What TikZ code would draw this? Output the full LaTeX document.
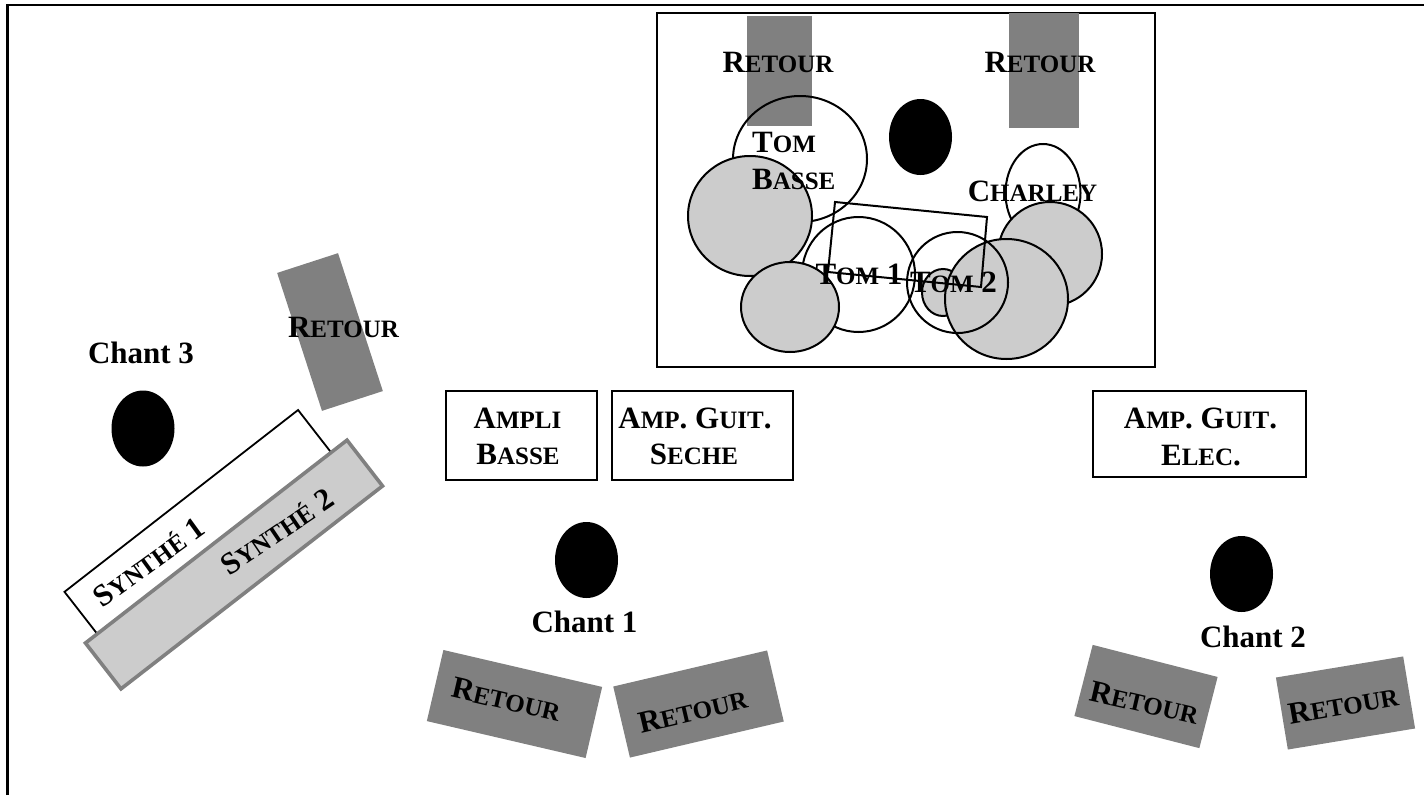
\documentclass[tikz,border=0pt]{standalone}
\usepackage{fontspec}
\setmainfont{Liberation Serif}
\usepackage{tikz}
\usetikzlibrary{shapes.geometric}
\newcommand{\petit}[2]{#1{\fontsize{25}{37}\selectfont #2}}
\tikzstyle{chanteur} = [ellipse, fill=black, inner sep=0pt, minimum width=63pt, minimum height=76pt]
\tikzstyle{futs} = [ellipse, draw=black, line width=2pt, inner sep=0pt, outer sep=0pt]
\tikzstyle{cymbale} = [futs, fill=black!20]
\tikzstyle{retour} = [rectangle, fill=black!50, inner sep=0pt]
\tikzstyle{ampli} = [rectangle, draw=black, line width=2.2pt, inner sep=0pt, outer sep=0pt]
\tikzstyle{texte} = [inner sep=0pt, anchor=base, align=center]
\tikzstyle{synthe1} = [rectangle, draw=black, fill=white, line width=1.8pt, inner sep=0pt, outer sep=0pt]
\tikzstyle{synthe2} = [rectangle, draw=black!50, fill=black!20, line width=3.6pt, inner sep=0pt, outer sep=0pt]

\begin{document}
\begin{tikzpicture}[x=1pt, y=-1pt, font=\fontsize{31}{37}\selectfont\bfseries]
	\useasboundingbox (0,0) rectangle (1424,795);
	\draw[line width=2.4pt] (7.5,795) -- (7.5,5) -- (1424,5);
	
	%batterie
	\draw[line width=2.2pt] (657,13) rectangle (1155,367);
	\node[retour, minimum width=65pt, minimum height=110pt] (retourA) at (779.5,71) {};
	\node[retour, minimum width=70pt, minimum height=115pt] (retourB) at (1044,70.5) {};
	\node[chanteur] (charley) at (920.5,137) {};
	\node[futs, minimum width=134pt, minimum height=126pt] (tombasse) at (800,159) {};
	\node[futs, minimum width=113pt, minimum height=115pt] (tom1) at (858.5,274.5) {};
	\node[cymbale, minimum width=124pt, minimum height=120pt] (cymb1) at (750,216) {};
	\node[cymbale, minimum width=98pt, minimum height=90pt] (cymb2) at (790,307) {};
	\node[futs, minimum width=75pt, minimum height=98pt] (hihat) at (1043,193) {};
	\node[cymbale, minimum width=104pt, minimum height=104pt] (cymb3) at (1050,254) {};
	\node[cymbale, minimum width=42pt, minimum height=47pt] (cymb4) at (943,292.5) {};
	\node[cymbale, minimum width=123pt, minimum height=120pt] (cymb5) at (1006.5,299) {};
	\node[futs, minimum width=101pt, minimum height=101pt] (tom2) at (957.5,282.5) {};
	\draw[line width=2pt] (835,202) -- (987,217) -- (981,287) -- (828,272) -- cycle;
	
	\node[texte] (lretourA) at (778,72) {\petit{R}{ETOUR}};
	\node[texte] (lretourB) at (1040,72) {\petit{R}{ETOUR}};
	\node[texte, anchor=base west] (ltom) at (752,152) {\petit{T}{OM}};
	\node[texte, anchor=base west] (lbasse) at (752,189) {\petit{B}{ASSE}};
	\node[texte] (lcharley) at (1032.5,201) {\petit{C}{HARLEY}};
	\node[texte] (ltom1) at (859,284) {\petit{T}{OM} 1};
	\node[texte] (ltom2) at (953.5,292) {\petit{T}{OM} 2};
	
	%amplis
	\node[ampli, minimum width=151pt, minimum height=89pt] (amplibasse) at (521.5,435.5) {};
	\node[ampli, minimum width=181pt, minimum height=89pt] (ampseche) at (702.5,435.5) {};
	\node[ampli, minimum width=213pt, minimum height=86pt] (ampelec) at (1199.5,434) {};
	\node[texte] (lampli) at (517.5,428) {\petit{A}{MPLI}};
	\node[texte] (lbasse2) at (518,464) {\petit{B}{ASSE}};
	\node[texte] (lguit1) at (695,428) {\petit{A}{MP}. \petit{G}{UIT}.};
	\node[texte] (lseche) at (694,464) {\petit{S}{ECHE}};
	\node[texte] (lguit2) at (1200.5,428) {\petit{A}{MP}. \petit{G}{UIT}.};
	\node[texte] (lelec) at (1201,465) {\petit{E}{LEC}.};
	
	%chant
	\node[chanteur] (chant1) at (586.5,560) {};
	\node[chanteur] (chant2) at (1241.5,574) {};
	\node[chanteur] (chant3) at (143,428.5) {};
	\node[texte] (lchant1) at (584.5,632) {Chant 1};
	\node[texte] (lchant2) at (1253,647) {Chant 2};
	\node[texte] (lchant3) at (141,363) {Chant 3};
	
	%retours
	\node[retour, rotate=-72, minimum width=145pt, minimum height=64pt] (retourC) at (330,332) {};
	\node[texte] (lretourC) at (343.5,337) {\petit{R}{ETOUR}};
	\node[retour, rotate=-13.1, minimum width=163pt, minimum height=73pt] (retourD) at (514.5,704) {};
	\node[texte, rotate=-13.1] (lretourD) at (504,709.5) {\petit{R}{ETOUR}};
	\node[retour, rotate=13.2, minimum width=158pt, minimum height=73pt] (retourE) at (698.5,704) {};
	\node[texte, rotate=13.2] (lretourE) at (695,720.5) {\petit{R}{ETOUR}};
	\node[retour, rotate=-14.4, minimum width=129pt, minimum height=73.5pt] (retourF) at (1146,696.5) {};
	\node[texte, rotate=-13] (lretourF) at (1142,712.5) {\petit{R}{ETOUR}};
	\node[retour, rotate=9.4, minimum width=129pt, minimum height=73pt] (retourG) at (1345.5,703) {};
	\node[texte, rotate=10] (lretourG) at (1345,715) {\petit{R}{ETOUR}};
	
	%synthes
	\node[synthe1, rotate=37.9, minimum width=296pt, minimum height=58pt] (synth1) at (199.1,523.8) {};
	\node[synthe2, rotate=37.8, minimum width=331pt, minimum height=58pt] (synth2) at (234,564.5) {};
	\node[texte, rotate=36] (lsynth1) at (155,570.5) {\petit{S}{YNTHÉ} 1};
	\node[texte, rotate=34] (lsynth2) at (283,540) {\petit{S}{YNTHÉ} 2};
\end{tikzpicture}
\end{document}
